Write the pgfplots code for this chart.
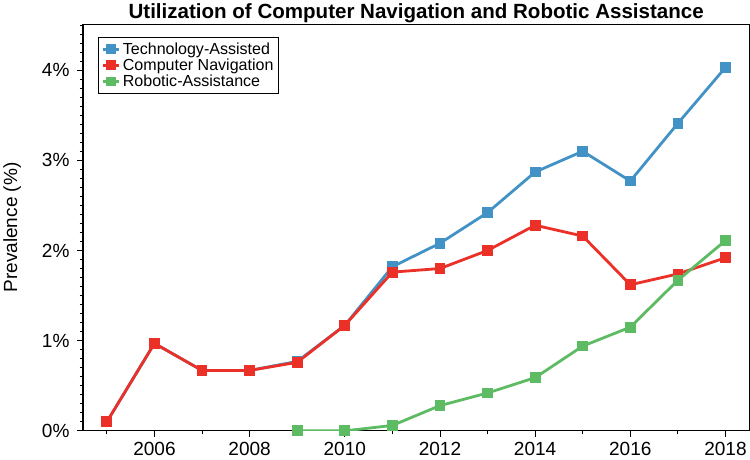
\documentclass[border=0pt]{standalone}
\usepackage{pgfplots}
\pgfplotsset{compat=1.18}
\usepackage{fontspec}
\setmainfont{Liberation Sans}
\definecolor{cblue}{RGB}{66,146,198}
\definecolor{cred}{RGB}{235,48,40}
\definecolor{cgreen}{RGB}{93,187,99}
\begin{document}
\begin{tikzpicture}
\begin{axis}[
  scale only axis,
  width=665pt, height=406pt,
  xmin=2004.5, xmax=2018.5,
  ymin=0, ymax=4.51,
  xtick={2006,2008,...,2018},
  minor xtick={2005,2007,...,2017},
  ytick={0,1,2,3,4},
  minor ytick={0.1,0.2,...,4.5},
  x tick label style={/pgf/number format/set thousands separator={}},
  yticklabel={\pgfmathprintnumber{\tick}\%},
  /pgf/number format/assume math mode=true,
  tick align=outside,
  xtick pos=bottom, ytick pos=left,
  major tick length=6pt, minor tick length=3.5pt,
  tick style={black, line width=0.9pt},
  axis line style={line width=1.1pt},
  ticklabel style={font=\fontsize{19}{22}\selectfont},
  xticklabel style={yshift=-2pt},
  yticklabel style={xshift=-4pt},
  ylabel={Prevalence (\%)},
  ylabel style={font=\fontsize{19}{22}\selectfont, yshift=14pt},
  title={Utilization of Computer Navigation and Robotic Assistance},
  title style={font=\fontsize{20.5}{23}\selectfont\bfseries, yshift=-8pt},
  legend style={at={(0.023,0.968)}, anchor=north west, draw=black, line width=1pt,
    font=\fontsize{16}{18}\selectfont, inner sep=3pt, row sep=-1pt},
  legend cell align=left,
  legend image code/.code={\draw[#1, line width=3pt] (0pt,0pt) -- (16pt,0pt); \draw[#1, mark size=3.5pt, mark repeat=1, mark phase=1] plot coordinates {(8pt,0pt)};},
  every axis plot/.append style={line width=2.8pt, mark=square*, mark size=4pt},
]
\addplot[color=cblue] coordinates {
(2005,0.10) (2006,0.97) (2007,0.67) (2008,0.67) (2009,0.77) (2010,1.17) (2011,1.82) (2012,2.08) (2013,2.42) (2014,2.87) (2015,3.10) (2016,2.77) (2017,3.41) (2018,4.03)};
\addlegendentry{Technology-Assisted}
\addplot[color=cred] coordinates {
(2005,0.10) (2006,0.97) (2007,0.67) (2008,0.67) (2009,0.76) (2010,1.17) (2011,1.76) (2012,1.80) (2013,2.00) (2014,2.28) (2015,2.16) (2016,1.62) (2017,1.74) (2018,1.92)};
\addlegendentry{Computer Navigation}
\addplot[color=cgreen] coordinates {
(2009,0.00) (2010,0.00) (2011,0.06) (2012,0.28) (2013,0.42) (2014,0.59) (2015,0.94) (2016,1.15) (2017,1.67) (2018,2.11)};
\addlegendentry{Robotic-Assistance}
\end{axis}
\end{tikzpicture}
\end{document}
